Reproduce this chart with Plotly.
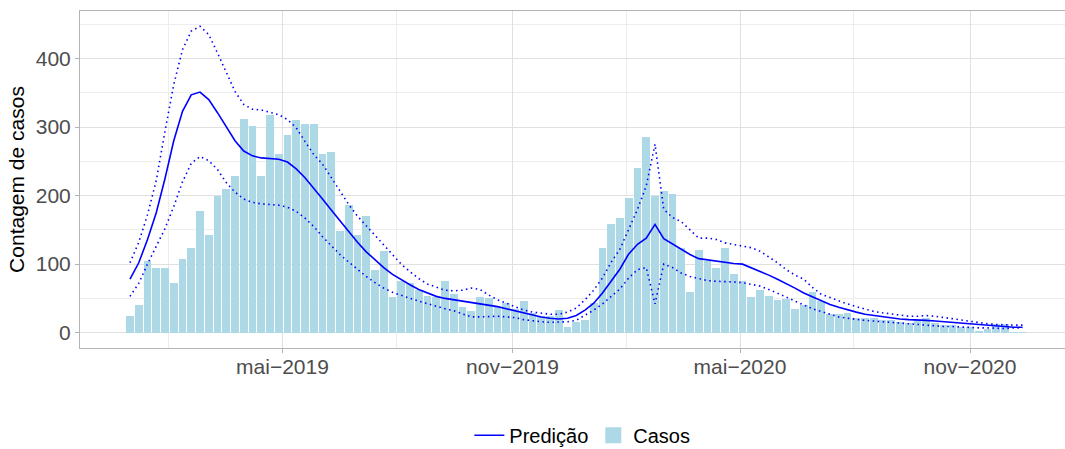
import pandas as pd
import plotly.graph_objects as go

# Weekly case counts (epidemiological weeks starting 2018-12-30)
start_week = "2018-12-30"
casos = [25, 41, 105, 94, 95, 72, 108, 124, 177, 142,
         199, 210, 228, 312, 301, 228, 318, 260, 289, 311,
         305, 305, 261, 263, 149, 187, 142, 170, 92, 119,
         52, 76, 72, 63, 54, 52, 75, 56, 38, 31,
         52, 50, 37, 43, 35, 46, 28, 25, 25, 33,
         9, 15, 19, 44, 124, 159, 167, 196, 240, 285,
         199, 206, 203, 124, 60, 120, 104, 95, 124, 86,
         75, 52, 63, 53, 47, 49, 34, 40, 60, 46,
         27, 27, 28, 21, 21, 21, 19, 18, 15, 14,
         19, 21, 14, 11, 11, 9, 9, 3, 6, 12,
         12, 1, 1]

predicao = [78, 102, 136, 175, 225, 280, 323, 347, 351, 340,
            321, 301, 280, 265, 258, 255, 254, 253, 249, 239,
            226, 211, 195, 179, 163, 147, 132, 118, 106, 95,
            85, 77, 70, 63, 58, 53, 50, 48, 46, 45,
            43, 41, 38, 35, 32, 28, 25, 23, 21, 20,
            21, 25, 33, 43, 58, 76, 93, 115, 129, 138,
            158, 137, 129, 122, 114, 108, 106, 104, 102, 101,
            100, 95, 90, 84, 78, 72, 65, 58, 52, 47,
            41, 37, 33, 30, 27, 25, 23, 21, 20, 19,
            19, 18, 17, 16, 15, 13, 12, 11, 10, 9,
            9, 8, 8]

superior = [102, 132, 172, 222, 294, 362, 413, 440, 447, 435,
            408, 379, 352, 333, 326, 325, 321, 318, 311, 299,
            279, 260, 246, 226, 205, 187, 170, 156, 141, 127,
            113, 100, 89, 79, 71, 66, 62, 61, 62, 65,
            63, 55, 48, 43, 38, 33, 30, 28, 27, 27,
            30, 36, 48, 62, 80, 103, 122, 151, 180, 214,
            275, 180, 168, 162, 150, 138, 138, 136, 131, 129,
            127, 124, 119, 111, 102, 92, 84, 78, 66, 56,
            51, 47, 42, 38, 34, 31, 29, 27, 25, 24,
            24, 25, 24, 22, 20, 18, 16, 14, 13, 12,
            11, 11, 11]

inferior = [53, 72, 100, 126, 152, 184, 220, 247, 257, 251,
            238, 219, 205, 195, 190, 188, 187, 186, 183, 177,
            167, 155, 140, 127, 114, 103, 92, 82, 73, 65,
            59, 54, 50, 46, 42, 38, 35, 32, 28, 23,
            23, 24, 24, 23, 22, 19, 17, 16, 15, 15,
            16, 18, 25, 33, 42, 53, 64, 80, 92, 95,
            42, 100, 95, 87, 82, 79, 76, 75, 75, 74,
            73, 71, 68, 63, 58, 52, 46, 40, 35, 31,
            27, 23, 21, 19, 18, 17, 16, 15, 14, 13,
            11, 10, 9, 9, 9, 8, 8, 7, 7, 6,
            6, 7, 7]

x_tick_vals = ["2019-05-01", "2019-11-01", "2020-05-01", "2020-11-01"]
x_tick_text = ["mai\u22122019", "nov\u22122019", "mai\u22122020", "nov\u22122020"]
x_minor_vals = ["2019-01-30", "2019-07-31", "2020-01-31", "2020-07-31"]
y_tick_vals = [0, 100, 200, 300, 400]
y_minor_vals = [50, 150, 250, 350, 450]

semanas = pd.date_range(start_week, periods=len(casos), freq="7D")

BLUE = "#0000FF"
BAR = "#ADD8E6"
FONT = "Liberation Sans"
DOT = "1.5px,3.5px"

fig = go.Figure()
fig.add_trace(go.Bar(
    x=semanas, y=casos, name="Casos", showlegend=False,
    marker=dict(color=BAR, line=dict(width=0)),
    width=0.9 * 7 * 86400000,
))
fig.add_trace(go.Scatter(
    x=semanas, y=inferior, mode="lines", showlegend=False,
    line=dict(color=BLUE, width=1.6, dash=DOT),
))
fig.add_trace(go.Scatter(
    x=semanas, y=superior, mode="lines", showlegend=False,
    line=dict(color=BLUE, width=1.6, dash=DOT),
))
fig.add_trace(go.Scatter(
    x=semanas, y=predicao, mode="lines", name="Predi\u00e7\u00e3o",
    line=dict(color=BLUE, width=1.6), legendrank=1,
))
# legend key for the bars (larger square, like the reference)
fig.add_trace(go.Scatter(
    x=[None], y=[None], mode="markers", name="Casos",
    marker=dict(symbol="square", size=16, color=BAR), legendrank=2,
))

grid_major = "#e0e0e0"
grid_minor = "#ededed"
border = "#b3b3b3"

fig.update_layout(
    width=1065, height=449, autosize=False,
    margin=dict(l=80, r=0, t=11, b=101),
    paper_bgcolor="white", plot_bgcolor="white",
    font=dict(family=FONT, color="#4d4d4d"),
    bargap=0,
    showlegend=True,
    legend=dict(
        orientation="h", xref="paper", x=0.51, xanchor="center",
        yref="container", y=0.074, yanchor="top",
        font=dict(size=20, color="black", family=FONT),
        itemwidth=30, tracegroupgap=0, bgcolor="rgba(0,0,0,0)",
    ),
    xaxis=dict(
        type="date", range=["2018-11-20", "2021-01-16"], automargin=False,
        tickmode="array", tickvals=x_tick_vals, ticktext=x_tick_text,
        tickfont=dict(size=21, color="#4d4d4d", family=FONT),
        ticklabelstandoff=-4,
        showgrid=True, gridcolor=grid_major, gridwidth=1.2,
        minor=dict(tickmode="array", tickvals=x_minor_vals, showgrid=True,
                   gridcolor=grid_minor, gridwidth=0.8, ticklen=0),
        ticks="outside", ticklen=4, tickcolor=border, tickwidth=1,
        showline=True, linecolor=border, linewidth=1, mirror=True,
        zeroline=False,
    ),
    yaxis=dict(
        range=[-22.35, 469.35], automargin=False,
        tickmode="array", tickvals=y_tick_vals,
        tickfont=dict(size=21, color="#4d4d4d", family=FONT),
        showgrid=True, gridcolor=grid_major, gridwidth=1.2,
        minor=dict(tickmode="array", tickvals=y_minor_vals, showgrid=True,
                   gridcolor=grid_minor, gridwidth=0.8, ticklen=0),
        ticks="outside", ticklen=4, tickcolor=border, tickwidth=1,
        showline=True, linecolor=border, linewidth=1,
        zeroline=False,
        title=dict(text="Contagem de casos", standoff=5,
                   font=dict(size=21, color="black", family=FONT)),
    ),
)

post = ("document.body.style.margin='0';"
        "document.body.style.overflow='hidden';")

fig.write_html("out.html", config={"responsive": False, "displayModeBar": False},
               post_script=post)
